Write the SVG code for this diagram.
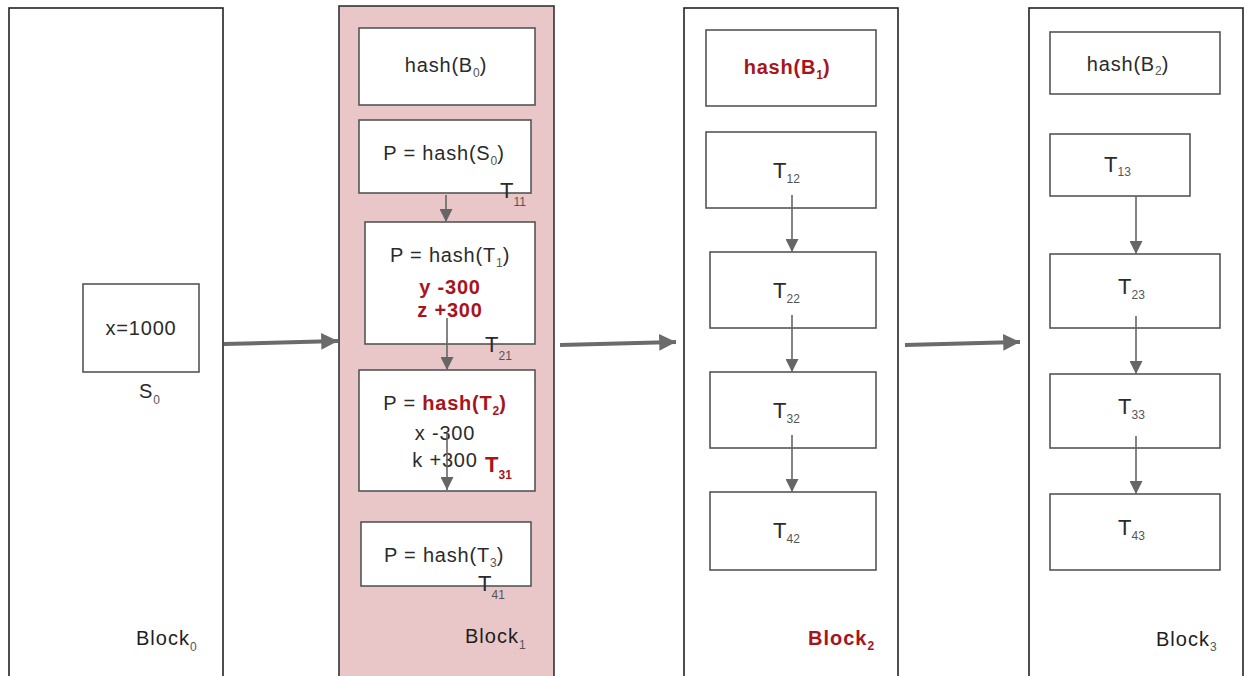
<svg xmlns="http://www.w3.org/2000/svg" width="1244" height="676" viewBox="0 0 1244 676">
  <style>
    .block { fill: #ffffff; stroke: #222222; stroke-width: 1.6; }
    .block1 { fill: #e9c7c9; stroke: #333333; stroke-width: 1.6; }
    .box { fill: #ffffff; stroke: #555555; stroke-width: 1.6; }
    text { font-family: "Liberation Sans", Arial, sans-serif; fill: #2b2b2b; }
    .lbl { font-size: 20px; letter-spacing: 0.8px; }
    .blk { font-size: 20px; letter-spacing: 1px; fill: #1e1e1e; }
    .mid { text-anchor: middle; }
    .red { fill: #a8141c; font-weight: bold; }
    .big { font-size: 22px; }
    .sub { font-size: 12px; fill: #555555; letter-spacing: 0; }
    .redsub { font-size: 12px; fill: #a8141c; font-weight: bold; letter-spacing: 0; }
    .flow { stroke: #666666; stroke-width: 1.6; fill: none; }
    .link { stroke: #6b6b6b; stroke-width: 4; fill: none; }
  </style>
  <defs>
    <marker id="tri" viewBox="0 0 10 10" refX="10" refY="5" markerWidth="14" markerHeight="13" markerUnits="userSpaceOnUse" orient="auto">
      <path d="M0,0 L10,5 L0,10 Z" fill="#666666"/>
    </marker>
    <marker id="triBig" viewBox="0 0 10 10" refX="10" refY="5" markerWidth="4.5" markerHeight="4.2" orient="auto">
      <path d="M0,0 L10,5 L0,10 Z" fill="#6b6b6b"/>
    </marker>
  </defs>

  <!-- Block 0 -->
  <g id="block0">
    <rect class="block" x="9" y="8" width="214" height="680"/>
    <text class="blk" x="136" y="645">Block<tspan class="sub" dy="6">0</tspan></text>
  </g>
  <g id="state0">
    <rect class="box" x="83" y="284" width="116" height="88"/>
    <text class="lbl mid" x="141" y="335">x=1000</text>
    <text class="lbl" x="139" y="398">S<tspan class="sub" dy="6">0</tspan></text>
  </g>

  <!-- Block 1 -->
  <g id="block1">
    <rect class="block1" x="339" y="6" width="215" height="682"/>
    <text class="blk" x="465" y="643">Block<tspan class="sub" dy="6">1</tspan></text>
  </g>
  <g id="b1-hash">
    <rect class="box" x="359" y="28" width="176" height="77"/>
    <text class="lbl mid" x="446" y="72">hash(B<tspan class="sub" dy="5">0</tspan><tspan dy="-5">)</tspan></text>
  </g>
  <g id="b1-t11">
    <rect class="box" x="359" y="120" width="172" height="73"/>
    <text class="lbl mid" x="444" y="160">P = hash(S<tspan class="sub" dy="5">0</tspan><tspan dy="-5">)</tspan></text>
    <text class="big" x="500" y="198">T<tspan class="sub" dy="8">11</tspan></text>
  </g>
  <g id="b1-t21">
    <rect class="box" x="365" y="222" width="170" height="122"/>
    <text class="lbl mid" x="450" y="262">P = hash(T<tspan class="sub" dy="5">1</tspan><tspan dy="-5">)</tspan></text>
    <text class="lbl mid red" x="450" y="294">y -300</text>
    <text class="lbl mid red" x="450" y="317">z +300</text>
    <text class="big" x="485" y="352">T<tspan class="sub" dy="8">21</tspan></text>
  </g>
  <g id="b1-t31">
    <rect class="box" x="359" y="370" width="176" height="121"/>
    <text class="lbl mid" x="445" y="410">P = <tspan class="red">hash(T<tspan class="redsub" dy="5">2</tspan><tspan dy="-5">)</tspan></tspan></text>
    <text class="lbl mid" x="445" y="440">x -300</text>
    <text class="lbl mid" x="445" y="467">k +300</text>
    <text class="big red" x="485" y="472">T<tspan class="redsub" dy="7">31</tspan></text>
  </g>
  <g id="b1-t41">
    <rect class="box" x="361" y="522" width="170" height="64"/>
    <text class="lbl mid" x="444" y="562">P = hash(T<tspan class="sub" dy="5">3</tspan><tspan dy="-5">)</tspan></text>
    <text class="big" x="478" y="591">T<tspan class="sub" dy="8">41</tspan></text>
  </g>

  <!-- Block 2 -->
  <g id="block2">
    <rect class="block" x="684" y="8" width="214" height="680"/>
    <text class="blk red" x="808" y="645">Block<tspan class="redsub" dy="5">2</tspan></text>
  </g>
  <g id="b2-hash">
    <rect class="box" x="706" y="30" width="170" height="76"/>
    <text class="lbl mid red" x="787" y="74">hash(B<tspan class="redsub" dy="5">1</tspan><tspan dy="-5">)</tspan></text>
  </g>
  <g id="b2-t12">
    <rect class="box" x="706" y="132" width="170" height="76"/>
    <text class="big" x="773" y="178">T<tspan class="sub" dy="5">12</tspan></text>
  </g>
  <g id="b2-t22">
    <rect class="box" x="710" y="252" width="166" height="76"/>
    <text class="big" x="773" y="298">T<tspan class="sub" dy="5">22</tspan></text>
  </g>
  <g id="b2-t32">
    <rect class="box" x="710" y="372" width="166" height="76"/>
    <text class="big" x="773" y="418">T<tspan class="sub" dy="5">32</tspan></text>
  </g>
  <g id="b2-t42">
    <rect class="box" x="710" y="492" width="166" height="78"/>
    <text class="big" x="773" y="538">T<tspan class="sub" dy="5">42</tspan></text>
  </g>

  <!-- Block 3 -->
  <g id="block3">
    <rect class="block" x="1029" y="8" width="214" height="680"/>
    <text class="blk" x="1156" y="646">Block<tspan class="sub" dy="5">3</tspan></text>
  </g>
  <g id="b3-hash">
    <rect class="box" x="1050" y="32" width="170" height="62"/>
    <text class="lbl mid" x="1128" y="71">hash(B<tspan class="sub" dy="4">2</tspan><tspan dy="-4">)</tspan></text>
  </g>
  <g id="b3-t13">
    <rect class="box" x="1050" y="134" width="140" height="62"/>
    <text class="big" x="1104" y="172">T<tspan class="sub" dy="4">13</tspan></text>
  </g>
  <g id="b3-t23">
    <rect class="box" x="1050" y="254" width="170" height="74"/>
    <text class="big" x="1118" y="294">T<tspan class="sub" dy="5">23</tspan></text>
  </g>
  <g id="b3-t33">
    <rect class="box" x="1050" y="374" width="170" height="74"/>
    <text class="big" x="1118" y="414">T<tspan class="sub" dy="5">33</tspan></text>
  </g>
  <g id="b3-t43">
    <rect class="box" x="1050" y="494" width="170" height="76"/>
    <text class="big" x="1118" y="535">T<tspan class="sub" dy="5">43</tspan></text>
  </g>

  <!-- Connectors -->
  <g id="connectors">
    <line class="link" x1="224" y1="344" x2="338" y2="341" marker-end="url(#triBig)"/>
    <line class="link" x1="560" y1="345" x2="676" y2="342" marker-end="url(#triBig)"/>
    <line class="link" x1="905" y1="345" x2="1020" y2="342" marker-end="url(#triBig)"/>

    <line class="flow" x1="446" y1="195" x2="446" y2="222" marker-end="url(#tri)"/>
    <line class="flow" x1="447" y1="318" x2="447" y2="370" marker-end="url(#tri)"/>
    <line class="flow" x1="447" y1="433" x2="447" y2="490" marker-end="url(#tri)"/>

    <line class="flow" x1="792" y1="195" x2="792" y2="252" marker-end="url(#tri)"/>
    <line class="flow" x1="792" y1="315" x2="792" y2="372" marker-end="url(#tri)"/>
    <line class="flow" x1="792" y1="435" x2="792" y2="492" marker-end="url(#tri)"/>

    <line class="flow" x1="1136" y1="196" x2="1136" y2="254" marker-end="url(#tri)"/>
    <line class="flow" x1="1136" y1="316" x2="1136" y2="374" marker-end="url(#tri)"/>
    <line class="flow" x1="1136" y1="436" x2="1136" y2="494" marker-end="url(#tri)"/>
  </g>
</svg>
